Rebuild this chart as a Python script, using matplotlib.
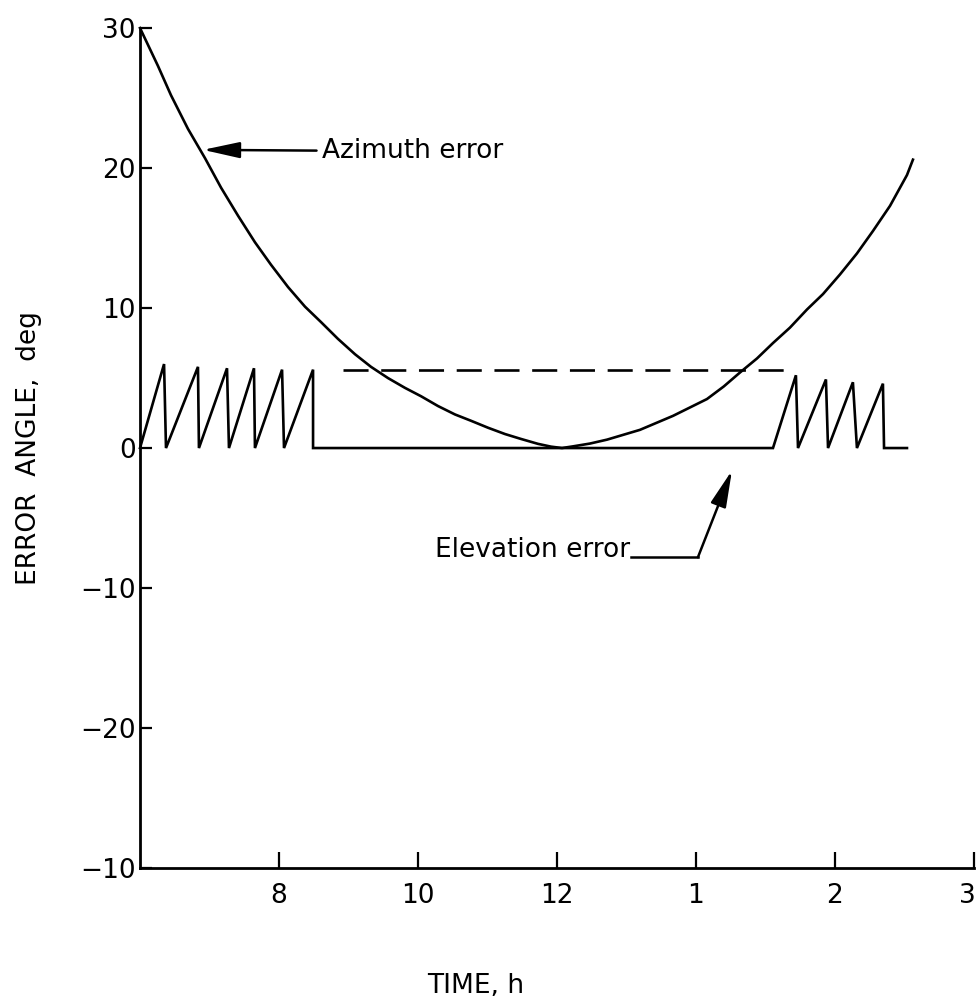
import matplotlib
matplotlib.use("Agg")
import matplotlib.pyplot as plt
import matplotlib.transforms as mtransforms

# tick positions are evenly spaced; labels are the clock hours printed on the chart
x_ticks = [0, 1, 2, 3, 4, 5]
x_labels = ['8', '10', '12', '1', '2', '3']
y_ticks = [30, 20, 10, 0, -10, -20, -30]
y_labels = ['30', '20', '10', '0', '\u221210', '\u221220', '\u221210']

# azimuth error curve
az_t = [-1.0, -0.871, -0.777, -0.655, -0.532, -0.417, -0.295, -0.173, -0.058,
        0.065, 0.187, 0.302, 0.424, 0.547, 0.662, 0.784, 0.906, 1.022, 1.144,
        1.266, 1.381, 1.504, 1.626, 1.741, 1.863, 1.957, 2.036, 2.115, 2.237,
        2.360, 2.597, 2.835, 3.079, 3.200, 3.317, 3.439, 3.554, 3.676, 3.799,
        3.914, 4.036, 4.158, 4.273, 4.396, 4.518, 4.561]
az_v = [30.0, 27.3, 25.2, 22.8, 20.7, 18.6, 16.6, 14.7, 13.1,
        11.5, 10.1, 9.0, 7.8, 6.7, 5.8, 5.0, 4.3, 3.7, 3.0,
        2.4, 1.95, 1.45, 1.0, 0.65, 0.3, 0.1, 0.0, 0.12, 0.32,
        0.6, 1.3, 2.3, 3.5, 4.4, 5.4, 6.4, 7.5, 8.6, 9.9,
        11.0, 12.4, 13.9, 15.5, 17.3, 19.5, 20.6]

# elevation error sawtooth
elev_t = [-1.0, -0.827, -0.813, -0.583, -0.576, -0.374, -0.360, -0.180, -0.173,
          0.022, 0.036, 0.245, 0.245, 3.554, 3.719, 3.734, 3.935, 3.950,
          4.129, 4.158, 4.345, 4.353, 4.518]
elev_v = [0, 6.0, 0, 5.8, 0, 5.7, 0, 5.7, 0,
          5.6, 0, 5.6, 0, 0, 5.2, 0, 4.9, 0,
          4.7, 0, 4.6, 0, 0]

# dashed level
dash_t = [0.46, 3.71]
dash_v = [5.6, 5.6]

fig = plt.figure(figsize=(9.77, 10.02), dpi=100)
ax = fig.add_axes([0.1433, 0.1337, 0.8536, 0.8383])

lw = 1.9
ax.plot(az_t, az_v, color='black', lw=lw, clip_on=False)
ax.plot(elev_t, elev_v, color='black', lw=lw, clip_on=False,
        solid_joinstyle='miter')
ax.plot(dash_t, dash_v, color='black', lw=lw, dashes=(9.5, 4.8))

ax.set_xlim(-1, 5)
ax.set_ylim(-30, 30)

for s in ['top', 'right']:
    ax.spines[s].set_visible(False)
for s in ['left', 'bottom']:
    ax.spines[s].set_linewidth(2.0)

fs = 19
ax.set_xticks(x_ticks)
ax.set_xticklabels(x_labels, fontsize=fs)
ax.set_yticks(y_ticks)
ax.set_yticklabels(y_labels, fontsize=fs)
ax.tick_params(axis='x', direction='in', length=11.5, width=1.6, pad=11)
ax.tick_params(axis='y', direction='in', length=8.5, width=1.6, pad=3)

# last label sits at the very edge of the page; nudge it in a little
last = ax.get_xticklabels()[-1]
last.set_transform(last.get_transform() +
                   mtransforms.ScaledTranslation(-0.07, 0, fig.dpi_scale_trans))

ax.set_xlabel('TIME, h', fontsize=fs)
ax.xaxis.set_label_coords(0.402, -0.125)
ax.set_ylabel('ERROR  ANGLE,  deg', fontsize=fs)
ax.yaxis.set_label_coords(-0.118, 0.5)

head = dict(arrowstyle='-|>,head_length=1.6,head_width=0.35',
            color='black', lw=1.8, shrinkA=2, shrinkB=0, mutation_scale=14)

ax.annotate('Azimuth error', xy=(-0.547, 21.3), xytext=(0.31, 21.2),
            fontsize=fs, ha='left', va='center', arrowprops=head)

ax.text(2.525, -7.8, 'Elevation error', fontsize=fs, ha='right', va='baseline')
ax.plot([2.535, 3.014], [-7.8, -7.8], color='black', lw=1.8)
ax.annotate('', xy=(3.259, -1.6), xytext=(3.014, -7.8),
            arrowprops=dict(head, shrinkA=0))

plt.savefig('out.png', dpi=100)
